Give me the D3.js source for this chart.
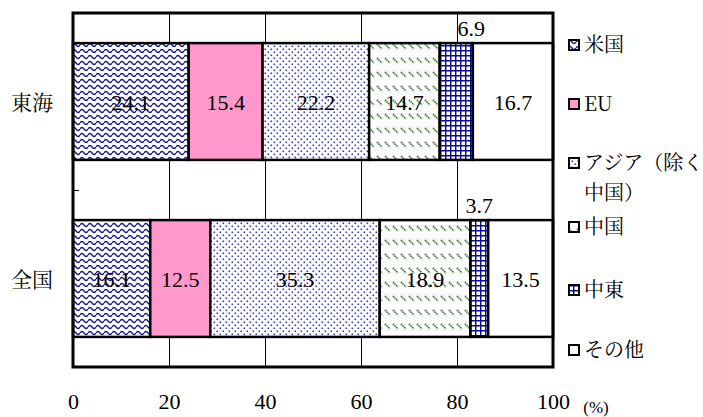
<!DOCTYPE html>
<html>
<head>
<meta charset="utf-8">
<script src="https://cdn.jsdelivr.net/npm/d3@7"></script>
<style>
	body { margin: 0; background: #fff; }
</style>
</head>
<body>
<div id="chart"></div>
<script>

// data
var regions = ["東海", "全国"];
var series = ["米国", "EU", "アジア（除く中国）", "中国", "中東", "その他"];
var legendLines = [["米国"], ["EU"], ["アジア（除く", "中国）"], ["中国"], ["中東"], ["その他"]];
var tokaiValues = [24.1, 15.4, 22.2, 14.7, 6.9, 16.7];
var zenkokuValues = [16.1, 12.5, 35.3, 18.9, 3.7, 13.5];
var xTicks = [0, 20, 40, 60, 80, 100];

// one family per label: Latin digits in Times-like, Japanese in Mincho-like
var NUM_FONT = "'Liberation Serif'";
var JP_FONT = "'Noto Serif CJK JP'";
var width = 703, height = 417;
var margin = {left: 73, right: 150, top: 13, bottom: 50};

var svg = d3.select("#chart").append("svg")
	.attr("width", width)
	.attr("height", height);

var defs = svg.append("defs");
var navy = "#1c1c8a";

// wave pattern (米国)
var p = defs.append("pattern").attr("id", "pUS").attr("patternUnits", "userSpaceOnUse")
	.attr("width", 8).attr("height", 6);
p.append("rect").attr("width", 8).attr("height", 6).attr("fill", "#fff");
p.append("path").attr("d", "M0,3 Q2,0 4,3 T8,3").attr("fill", "none")
	.attr("stroke", navy).attr("stroke-width", 1.4);

// dots (アジア)
p = defs.append("pattern").attr("id", "pAsia").attr("patternUnits", "userSpaceOnUse")
	.attr("width", 6).attr("height", 6);
p.append("rect").attr("width", 6).attr("height", 6).attr("fill", "#fff");
p.append("rect").attr("x", 0.5).attr("y", 0.5).attr("width", 1.6).attr("height", 1.6).attr("fill", "#3a3ab0");
p.append("rect").attr("x", 3.5).attr("y", 3.5).attr("width", 1.6).attr("height", 1.6).attr("fill", "#3a3ab0");

// diagonal dashes (中国)
p = defs.append("pattern").attr("id", "pChina").attr("patternUnits", "userSpaceOnUse")
	.attr("width", 8).attr("height", 14);
p.append("rect").attr("width", 8).attr("height", 14).attr("fill", "#fff");
p.append("path").attr("d", "M1,2 L6,7").attr("stroke", "#3d7a3d").attr("stroke-width", 1.8)
	.attr("stroke-dasharray", "1.5,0.7");

// grid (中東)
p = defs.append("pattern").attr("id", "pME").attr("patternUnits", "userSpaceOnUse")
	.attr("width", 5).attr("height", 5);
p.append("rect").attr("width", 5).attr("height", 5).attr("fill", "#fff");
p.append("path").attr("d", "M0,0.7 H5 M0.7,0 V5").attr("stroke", "#0c0c90").attr("stroke-width", 1.5);

var fills = ["url(#pUS)", "#ff99cc", "url(#pAsia)", "url(#pChina)", "url(#pME)", "#fff"];

var x = d3.scaleLinear().domain([0, 100]).range([margin.left, 553]);
var y = d3.scaleBand().domain(regions).range([margin.top, height - margin.bottom]).paddingInner(0.34).paddingOuter(0.17);

// grid lines
svg.append("g")
	.attr("transform", "translate(0," + (height - margin.bottom) + ")")
	.call(d3.axisBottom(x).tickValues([20, 40, 60, 80]).tickSize(-(height - margin.bottom - margin.top)).tickFormat(""))
	.call(function(g) {
		g.select(".domain").remove();
		g.selectAll("line").attr("stroke", "#000").attr("stroke-width", 1);
	});

// stacked bars
var stackData = regions.map(function(r, i) {
	var vals = i === 0 ? tokaiValues : zenkokuValues;
	var row = {region: r};
	series.forEach(function(s, j) { row[s] = vals[j]; });
	return row;
});
var stacked = d3.stack().keys(series)(stackData);

var layers = svg.selectAll(".layer")
	.data(stacked)
	.enter().append("g")
	.attr("class", "layer");

layers.selectAll("rect")
	.data(function(d) { return d; })
	.enter().append("rect")
	.attr("x", function(d) { return x(d[0]); })
	.attr("y", function(d) { return y(d.data.region); })
	.attr("width", function(d) { return x(d[1]) - x(d[0]); })
	.attr("height", y.bandwidth())
	.attr("fill", function() { return fills[series.indexOf(d3.select(this.parentNode).datum().key)]; })
	.attr("stroke", "#000")
	.attr("stroke-width", 2.5);

// value labels
layers.each(function(layer, i) {
	d3.select(this).selectAll(".val")
		.data(layer)
		.enter().append("text")
		.attr("class", "val num")
		.attr("text-anchor", "middle")
		.attr("font-size", 22)
		.attr("x", function(d, k) {
			var cx = (x(d[0]) + x(d[1])) / 2;
			// 中東 labels sit above the bar
			if (series[i] === "中東" && k === 0) { return cx + 15; }
			return cx;
		})
		.attr("y", function(d) {
			if (series[i] === "中東") { return y(d.data.region) - 7; }
			return y(d.data.region) + y.bandwidth() / 2 + 8;
		})
		.text(function(d) { return (d[1] - d[0]).toFixed(1); });
});

// frame
svg.append("rect")
	.attr("x", x(0)).attr("y", margin.top)
	.attr("width", x(100) - x(0)).attr("height", height - margin.bottom - margin.top)
	.attr("fill", "none").attr("stroke", "#000").attr("stroke-width", 3);

// category axis (inside ticks)
var yl = d3.scaleLinear().domain([0, 2]).range([height - margin.bottom, margin.top]);
svg.append("g")
	.attr("transform", "translate(" + x(0) + ",0)")
	.call(d3.axisRight(yl).tickValues([1]).tickSize(6).tickFormat(""))
	.call(function(g) {
		g.select(".domain").remove();
		g.selectAll("line").attr("stroke", "#000").attr("stroke-width", 1);
	});

svg.selectAll(".cat")
	.data(regions)
	.enter().append("text")
	.attr("class", "cat jp")
	.attr("x", 32)
	.attr("y", function(d) { return y(d) + y.bandwidth() / 2 + 8; })
	.attr("text-anchor", "middle")
	.attr("font-size", 21)
	.text(function(d) { return d; });

// x axis labels
svg.append("g")
	.attr("transform", "translate(0," + (height - margin.bottom) + ")")
	.call(d3.axisBottom(x).tickValues(xTicks).tickSize(0).tickPadding(26))
	.call(function(g) {
		g.select(".domain").remove();
		g.selectAll("text").attr("class", "num").attr("font-size", 22);
	});

svg.append("text")
	.attr("class", "num")
	.attr("x", 596).attr("y", 413)
	.attr("font-size", 17)
	.attr("text-anchor", "middle")
	.text("(%)");

// legend
var legendY = [45, 104, 163, 227, 290, 350];
var legend = svg.selectAll(".legend")
	.data(series)
	.enter().append("g")
	.attr("class", "legend")
	.attr("transform", function(d, i) { return "translate(568," + legendY[i] + ")"; });

legend.append("rect")
	.attr("x", 1).attr("y", -5)
	.attr("width", 10).attr("height", 10)
	.attr("fill", function(d, i) { return fills[i]; })
	.attr("stroke", "#000").attr("stroke-width", 2);

legend.append("text")
	.attr("class", "jp")
	.attr("x", 16)
	.attr("y", 7)
	.attr("font-size", 20)
	.each(function(d, i) {
		var t = d3.select(this);
		legendLines[i].forEach(function(line, k) {
			t.append("tspan").attr("x", 16).attr("dy", k === 0 ? 0 : 30).text(line);
		});
	});

svg.selectAll("text.num").style("font-family", NUM_FONT).attr("fill", "#000");
svg.selectAll("text.jp").style("font-family", JP_FONT).attr("fill", "#000");

</script>
</body>
</html>
